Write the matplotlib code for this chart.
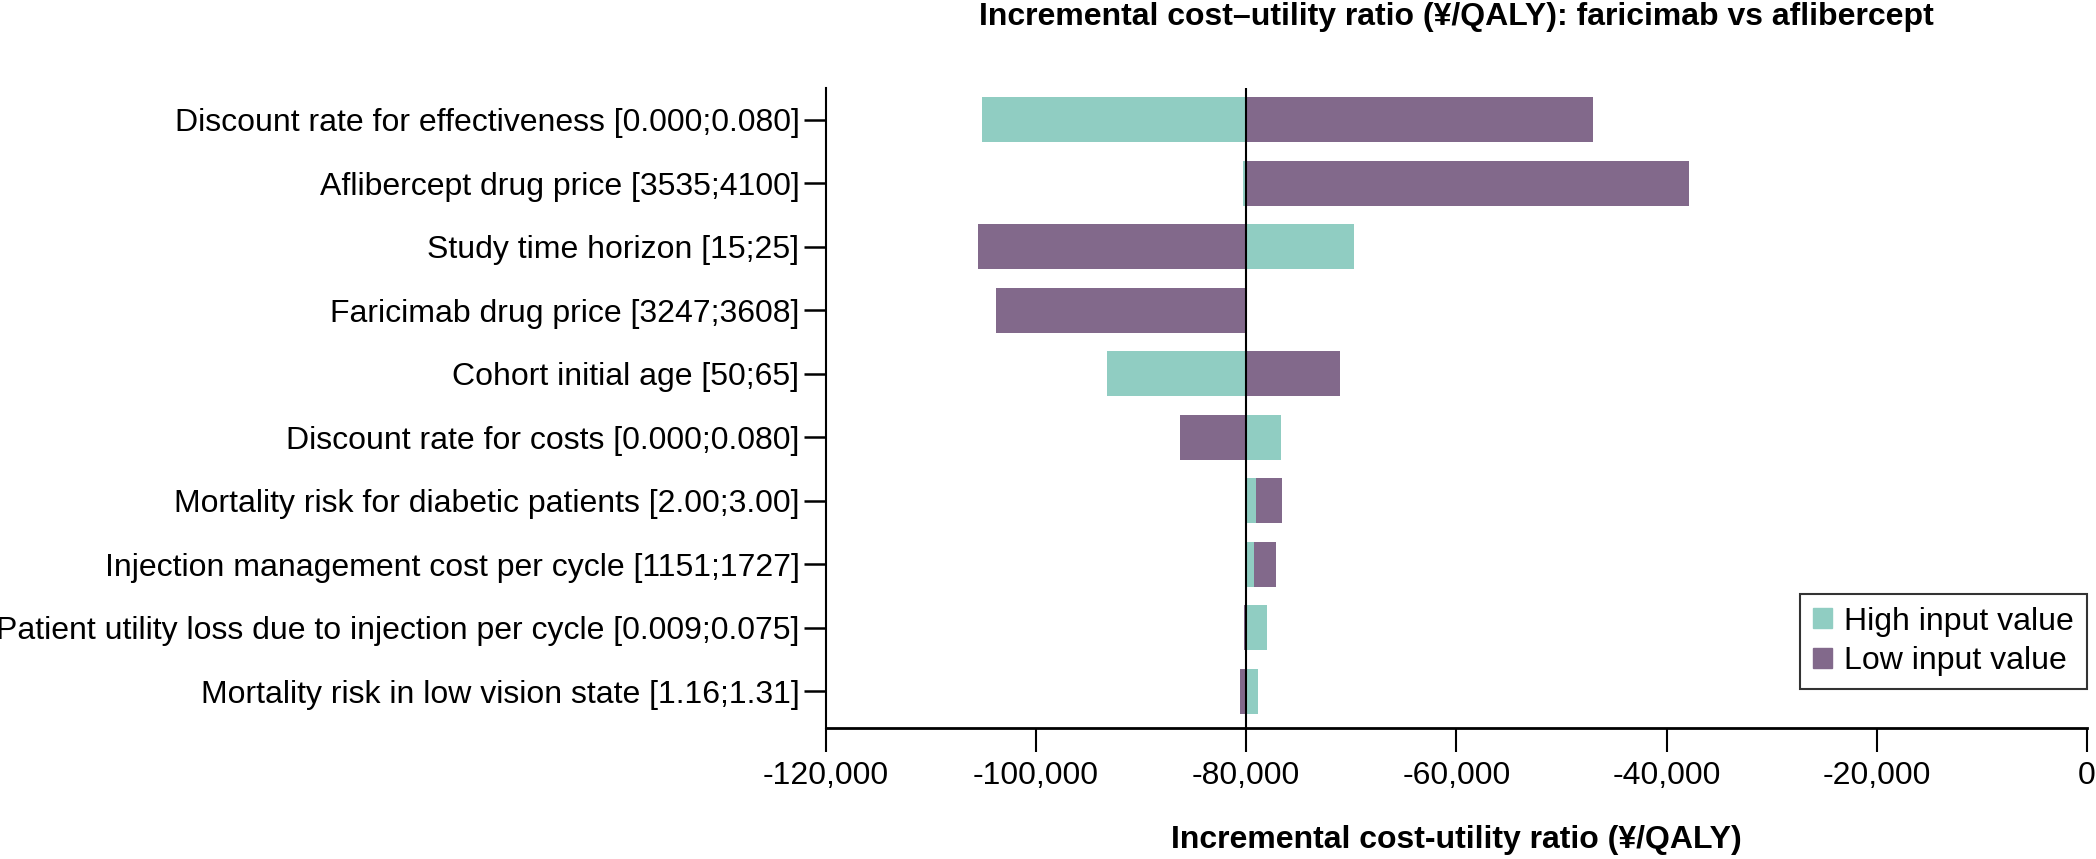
import matplotlib
matplotlib.use("Agg")
import matplotlib.pyplot as plt
import matplotlib.ticker as mticker
from matplotlib.patches import Patch
import numpy as np

plt.rcParams['font.family'] = ['Liberation Sans', 'DejaVu Sans']

# parameters, top to bottom
params = [
    "Discount rate for effectiveness [0.000;0.080]",
    "Aflibercept drug price [3535;4100]",
    "Study time horizon [15;25]",
    "Faricimab drug price [3247;3608]",
    "Cohort initial age [50;65]",
    "Discount rate for costs [0.000;0.080]",
    "Mortality risk for diabetic patients [2.00;3.00]",
    "Injection management cost per cycle [1151;1727]",
    "Patient utility loss due to injection per cycle [0.009;0.075]",
    "Mortality risk in low vision state [1.16;1.31]",
]
base = -80000
high_vals = [-105100, -80300, -69700, -80000, -93200, -76700, -79050, -79250, -78000, -78900]
low_vals = [-47000, -37900, -105500, -103800, -71100, -86300, -76600, -77200, -80200, -80600]

teal = '#90cdc2'
purple = '#82698b'

fig = plt.figure(figsize=(20.96, 8.59), dpi=100)
ax = fig.add_axes([0.394, 0.1525, 0.6017, 0.745])

y = np.arange(len(params))
h = 0.71
for i in range(len(params)):
    hi = high_vals[i] - base
    lo = low_vals[i] - base
    # draw longer bar first so the shorter one stays visible
    if abs(hi) >= abs(lo):
        ax.barh(y[i], hi, left=base, height=h, color=teal, zorder=2)
        ax.barh(y[i], lo, left=base, height=h, color=purple, zorder=3)
    else:
        ax.barh(y[i], lo, left=base, height=h, color=purple, zorder=2)
        ax.barh(y[i], hi, left=base, height=h, color=teal, zorder=3)

ax.axvline(base, color='black', lw=1.5, zorder=4)

ax.set_xlim(-120000, 0)
ax.set_ylim(len(params) - 0.42, -0.5)
ax.set_yticks(y)
ax.set_yticklabels(params)
ax.set_xticks(np.arange(-120000, 1, 20000))
ax.xaxis.set_major_formatter(mticker.FuncFormatter(lambda v, p: f"{int(v):,}"))

for s in ['top', 'right']:
    ax.spines[s].set_visible(False)
ax.spines['left'].set_linewidth(1.5)
ax.spines['bottom'].set_linewidth(2)
ax.tick_params(axis='y', length=16, width=1.8, pad=3, labelsize=23)
ax.tick_params(axis='x', length=17, width=1.5, pad=7, labelsize=23)

handles = [Patch(color=teal, label='High input value'),
           Patch(color=purple, label='Low input value')]
leg = ax.legend(handles=handles, loc='lower right', bbox_to_anchor=(1.0, 0.061),
                fontsize=23, frameon=True, fancybox=False, edgecolor='black',
                borderaxespad=0, handlelength=0.6, handleheight=0.6,
                handletextpad=0.4, labelspacing=0.3, borderpad=0.4)
leg.get_frame().set_linewidth(1.5)

xc = 0.394 + 0.6017 / 2
fig.text(xc, 0.980, "Incremental cost\u2013utility ratio (\u00a5/QALY): faricimab vs aflibercept",
         ha='center', va='center', fontsize=23, fontweight='bold')
fig.text(xc, 0.022, "Incremental cost-utility ratio (\u00a5/QALY)",
         ha='center', va='center', fontsize=23, fontweight='bold')

fig.savefig('out.png', dpi=100)
